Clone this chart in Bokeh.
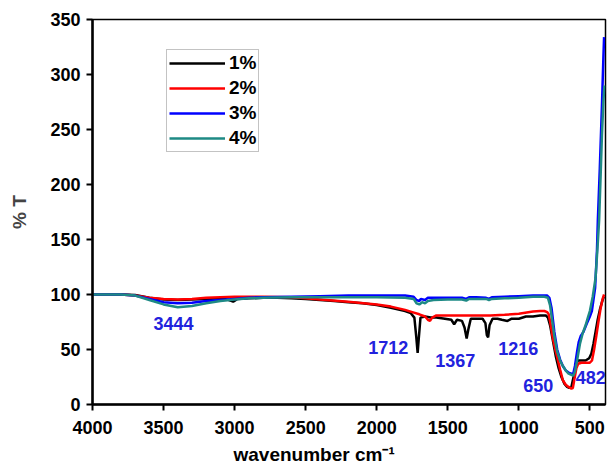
from bokeh.plotting import figure
from bokeh.models import Range1d, Label, FixedTicker, Title
from bokeh.embed import file_html
from bokeh.resources import INLINE

# ---- data ----
series_names = ["1%", "2%", "3%", "4%"]

wn_1 = [4000,3800,3700,3600,3500,3400,3300,3200,3100,3040,3010,2980,2900,2800,2700,2600,2500,2400,2300,2200,2100,2000,1900,1800,1760,1735,1722,1712,1704,1692,1660,1620,1580,1520,1475,1455,1435,1400,1382,1367,1354,1338,1300,1255,1235,1225,1216,1206,1185,1150,1120,1080,1050,1000,950,900,850,820,810,795,780,760,740,720,700,680,660,645,630,615,600,585,560,530,505,490,475,460,445,430,415,402]
t_1 = [100,100,99.5,97,95.5,95,95.5,96,96.5,95,93.5,96,96.5,97,97,96.5,96,95,94,93,92,90.5,88,85,83,79,62,47,60,79,80,79,79,78,77,73,77,76,70,60,69,78,78,78,74,63,61,72,78,78,77,76,78,78,80,80,81,81,81,79,72,58,44,33,25,19,16,15,16,25,35,40,40,40,42,46,55,66,77,86,93,98]

wn_2 = [4000,3800,3700,3600,3500,3400,3300,3200,3000,2800,2600,2500,2400,2200,2000,1900,1800,1750,1700,1660,1640,1625,1610,1580,1500,1400,1300,1200,1100,1000,900,850,820,800,790,779,760,740,730,710,690,670,650,630,620,610,595,582,560,530,500,485,470,455,440,425,410,400]
t_2 = [100,100,99,97,96,95.5,96,97,98,98,97.5,96.5,95.5,93.5,91,89,86,84,82,80,77,76,79,81,81,81,81,81,81.5,82.5,84.5,85,85,84,82,75,60,48,43,32,22,18,16,14.5,15,22,33,37,38,38,38,40,50,62,75,87,96,100]

wn_3 = [4000,3800,3700,3600,3500,3400,3300,3200,3100,3000,2900,2800,2600,2400,2200,2000,1800,1740,1720,1700,1690,1660,1640,1600,1500,1400,1370,1350,1300,1230,1210,1190,1100,1000,900,800,785,770,750,730,710,690,670,650,630,617,605,590,578,565,545,520,500,486,475,463,450,444,430,415,405,400]
t_3 = [100,100,99,96,93,92,92.5,94,95,96,97,97.5,98,98.5,99,99,99,98,95,94,96,95,97,97,97,97,96,97.5,97.5,97,96,97.5,98,98.5,99,99,97,88,66,50,41,35,31,29,28,28,35,48,57,62,66,74,80,85,95,106,140,167,215,272,315,334]

wn_4 = [4000,3800,3700,3600,3500,3400,3300,3200,3100,3000,2900,2800,2600,2400,2200,2000,1800,1740,1720,1700,1680,1660,1640,1600,1500,1400,1370,1350,1300,1230,1210,1190,1100,1000,900,820,795,780,765,750,730,710,690,670,650,630,617,605,590,570,550,530,512,500,480,460,445,435,425,415,405,398]
t_4 = [100,100,99,95,91,88.5,89.5,92,94,95.5,96.5,97,97.5,97.5,97.5,97.5,97,96,92,91,93,92,94,95,95.5,95.5,94.5,96,96,96,95,96,96.5,97,98,98,97,90,76,62,48,40,35,31,28,27,26,30,40,55,65,72,80,85,98,115,145,167,205,245,275,290]

x_ticks = [4000, 3500, 3000, 2500, 2000, 1500, 1000, 500]
y_ticks = [0, 50, 100, 150, 200, 250, 300, 350]

peak_labels = ["3444", "1712", "1367", "1216", "650", "482"]
peak_x = [3430, 1918, 1447, 1004, 864, 600]
peak_y = [73.6, 52, 40, 51, 17.5, 24.5]

colors = ["#000000", "#ff0000", "#0000ff", "#1e8a85"]
FONT = "Liberation Sans"

p = figure(width=611, height=473, output_backend="svg", toolbar_location=None,
           x_range=Range1d(4000, 390), y_range=Range1d(0, 350),
           min_border_left=92, min_border_right=6, min_border_top=19, min_border_bottom=69)

p.background_fill_color = "white"
p.border_fill_color = "white"
p.xgrid.visible = False
p.ygrid.visible = False
p.outline_line_color = "black"
p.outline_line_width = 1.5

for ax in (p.xaxis[0], p.yaxis[0]):
    ax.axis_line_width = 2.5
    ax.major_tick_line_width = 2
    ax.major_tick_out = 6
    ax.major_tick_in = 0
    ax.minor_tick_line_color = None
    ax.major_label_text_font = FONT
    ax.major_label_text_font_style = "bold"
    ax.major_label_text_font_size = "18px"
    ax.major_label_text_color = "black"

p.xaxis.ticker = FixedTicker(ticks=x_ticks)
p.yaxis.ticker = FixedTicker(ticks=y_ticks)
p.xaxis.major_label_standoff = 10
p.yaxis.major_label_standoff = 6
p.yaxis.axis_label = "% T"
p.yaxis.axis_label_text_font = FONT
p.yaxis.axis_label_text_font_style = "bold"
p.yaxis.axis_label_text_font_size = "19px"
p.yaxis.axis_label_standoff = 17

xlab = Title(text="wavenumber cm\u207b\u00b9", align="left", offset=141, standoff=11,
             text_font=FONT, text_font_style="bold", text_font_size="19px", text_color="black")
p.add_layout(xlab, "below")

data = [(wn_1, t_1), (wn_2, t_2), (wn_3, t_3), (wn_4, t_4)]
for (xs, ys), c, name in zip(data, colors, series_names):
    p.line(xs, ys, line_color=c, line_width=2.5, legend_label=name)

leg = p.legend[0]
leg.location = (74, 252)
leg.border_line_color = "#888888"
leg.border_line_width = 1.5
leg.background_fill_color = "white"
leg.background_fill_alpha = 1
leg.label_text_font = FONT
leg.label_text_font_style = "bold"
leg.label_text_font_size = "19px"
leg.label_text_color = "black"
leg.glyph_width = 56
leg.glyph_height = 16
leg.label_height = 16
leg.spacing = 3
leg.padding = 2
leg.margin = 0
leg.label_standoff = 4

for txt, xv, yv in zip(peak_labels, peak_x, peak_y):
    align = "left" if txt == "482" else "center"
    p.add_layout(Label(x=xv, y=yv, text=txt, text_align=align, text_baseline="middle",
                       text_font=FONT, text_font_style="bold", text_font_size="18px",
                       text_color="#2222dd"))

open("out.html", "w").write(file_html(p, INLINE))
